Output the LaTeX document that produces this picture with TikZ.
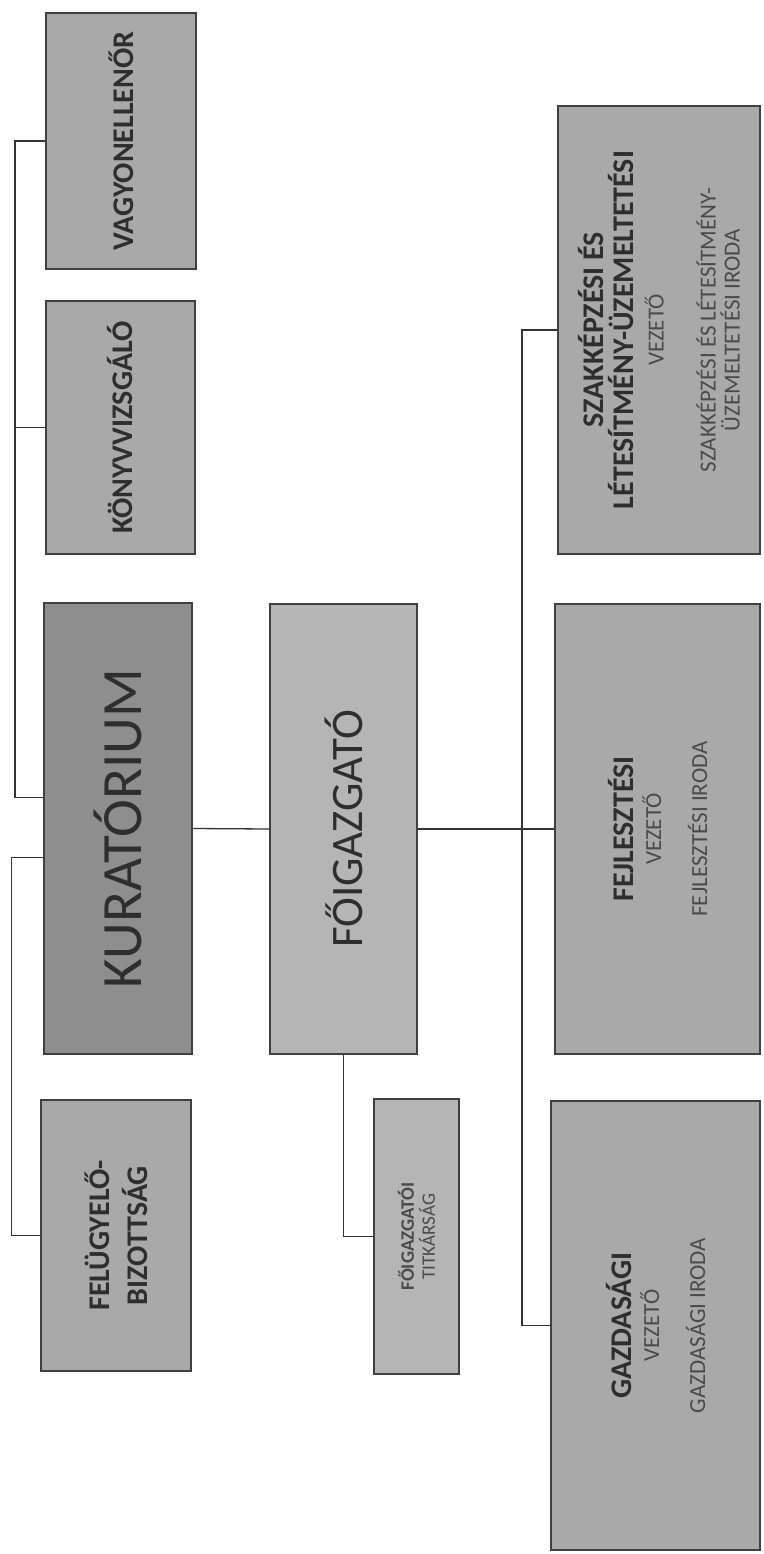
\documentclass[tikz,border=0pt]{standalone}
\usepackage{fontspec}
\setmainfont{Carlito}
\definecolor{boxgray}{HTML}{A9A9A9}
\definecolor{kurgray}{HTML}{8E8E8E}
\definecolor{foigray}{HTML}{B5B5B5}
\definecolor{inkgray}{HTML}{2E2E2E}
\definecolor{softink}{HTML}{4A4A4A}
\newcommand{\fs}[2]{\fontsize{#1}{#2}\selectfont}
\tikzset{
  unit/.style={draw=black!75,line width=2.5pt,fill=boxgray,inner sep=0pt},
  vlabel/.style={rotate=90,align=center,text=inkgray,inner sep=0pt},
  link/.style={line width=1.3pt,draw=black!80},
}

\begin{document}
\begin{tikzpicture}[x=1pt,y=-1pt]
  \useasboundingbox (0,0) rectangle (763,1554);
  % boxes
  \node[unit,minimum width=150,minimum height=256] (vag) at (121,141) {};
  \node[unit,minimum width=149,minimum height=253] (kon) at (120.5,427.5) {};
  \node[unit,fill=kurgray,minimum width=148,minimum height=451] (kur) at (118,828.5) {};
  \node[unit,minimum width=150,minimum height=271] (fel) at (116,1235.5) {};
  \node[unit,fill=foigray,minimum width=147,minimum height=450] (foi) at (343.5,829) {};
  \node[unit,fill=foigray,minimum width=85,minimum height=275] (tit) at (416.5,1236.5) {};
  \node[unit,minimum width=202,minimum height=448] (sza) at (659,330) {};
  \node[unit,minimum width=205,minimum height=450] (fej) at (657.5,829) {};
  \node[unit,minimum width=209,minimum height=449] (gaz) at (655.5,1325.5) {};
  % texts
  \node[vlabel,font=\fs{30}{36}\bfseries] (vag-t) at (vag) {VAGYONELLENŐR};
  \node[vlabel,font=\fs{30}{36}\bfseries] (kon-t) at (kon) {KÖNYVVIZSGÁLÓ};
  \node[vlabel,font=\fs{57}{60}] (kur-t) at (kur) {KURATÓRIUM};
  \node[vlabel,font=\fs{45}{50}] (foi-t) at (foi) {FŐIGAZGATÓ};
  \node[vlabel,font=\fs{30}{38}\bfseries] (fel-t) at (fel) {FELÜGYELŐ-\\BIZOTTSÁG};
  \node[vlabel,font=\fs{19}{21},text=softink] (tit-t) at (tit) {\bfseries FŐIGAZGATÓI\\TITKÁRSÁG};
  \node[vlabel,font=\fs{30}{30}] (sza-t) at (sza)
    {\bfseries SZAKKÉPZÉSI ÉS\\\bfseries LÉTESÍTMÉNY-ÜZEMELTETÉSI\\
     \fs{23}{30}\color{softink}VEZETŐ\\[22pt]
     \fs{23}{30}\color{softink}SZAKKÉPZÉSI ÉS LÉTESÍTMÉNY-\\[-6pt]
     \fs{23}{30}\color{softink}ÜZEMELTETÉSI IRODA};
  \node[vlabel,font=\fs{30}{28}] (fej-t) at (fej)
    {\bfseries FEJLESZTÉSI\\\fs{23}{28}\color{softink}VEZETŐ\\[18pt]
     \fs{23}{28}\color{softink}FEJLESZTÉSI IRODA};
  \node[vlabel,font=\fs{30}{28}] (gaz-t) at (gaz)
    {\bfseries GAZDASÁGI\\\fs{23}{28}\color{softink}VEZETŐ\\[18pt]
     \fs{23}{28}\color{softink}GAZDASÁGI IRODA};
  % connectors
  \coordinate (lbus) at (15,0);
  \coordinate (rbus) at (522,0);
  \draw[link] (vag.west) -- (vag.west -| lbus) |- ([yshift=31pt]kur.west);
  \draw[link] (kon.west) -- (kon.west -| lbus);
  \draw[link] ([yshift=-29pt]kur.west) -- ++(-31,0) |- (fel.west);
  \draw[link] (kur.east) -- (foi.west);
  \draw[link] (foi.south) |- (tit.west);
  \draw[link] (foi.east) -- (fej.west);
  \draw[link] (sza.west) -- (sza.west -| rbus) |- (gaz.west);
\end{tikzpicture}
\end{document}
